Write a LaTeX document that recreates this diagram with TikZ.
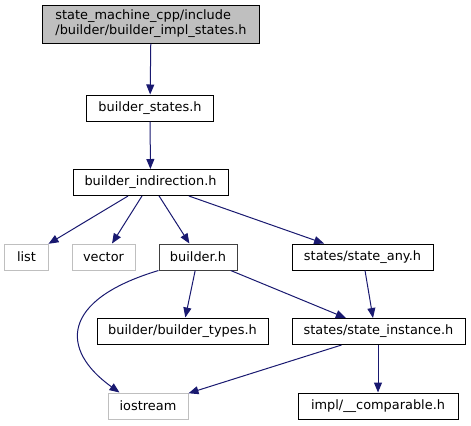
\documentclass[tikz,border=0pt]{standalone}
\usepackage{fontspec}
\setmainfont{DejaVu Sans}
\usetikzlibrary{arrows.meta}
\definecolor{edgeblue}{HTML}{191970}
\definecolor{boxgray}{HTML}{BFBFBF}
\definecolor{darkframe}{HTML}{404040}
\tikzset{
  file/.style={draw=black, line width=1bp, fill=white, minimum height=26bp,
    inner sep=0pt, font=\fontsize{12.9bp}{15bp}\selectfont},
  sysfile/.style={file, draw=boxgray},
  dep/.style={draw=edgeblue, line width=1bp, -{Triangle[length=10bp,width=8bp]}}
}
\begin{document}
\begin{tikzpicture}[x=1bp,y=-1bp]
            \useasboundingbox (0,0) rectangle (471,425);
            % files
            \node[file, fill=boxgray, minimum width=216bp, minimum height=38bp, align=left] (impl) at (151,24) {state\_machine\_cpp/include\\/builder/builder\_impl\_states.h};
            \node[file, minimum width=127bp] (states) at (150,108) {builder\_states.h};
            \node[file, minimum width=155bp] (indir) at (150.5,182.5) {builder\_indirection.h};
            \node[sysfile, minimum width=43bp] (list) at (26.5,257) {list};
            \node[sysfile, minimum width=63bp] (vector) at (103.5,257) {vector};
            \node[file, draw=darkframe, minimum width=78bp] (builder) at (198,257) {builder.h};
            \node[file, minimum width=141bp] (any) at (362.5,257) {states/state\_any.h};
            \node[file, minimum width=171bp] (types) at (182.5,331) {builder/builder\_types.h};
            \node[file, minimum width=173bp] (inst) at (378.5,331.5) {states/state\_instance.h};
            \node[sysfile, minimum width=80bp] (io) at (148,406) {iostream};
            \node[file, minimum width=160bp] (cmp) at (378,406) {impl/\_\_comparable.h};
            % includes
            \draw[dep] (impl) -- (states);
            \draw[dep] (states) -- (indir);
            \foreach \t in {list,vector,builder,any}
                \draw[dep] (indir) -- (\t);
            \draw[dep] (builder.south west) .. controls (60,300) and (60,350) .. ([xshift=12bp]io.north west);
            \draw[dep] (builder) -- (types);
            \draw[dep] (builder) -- (inst);
            \draw[dep] ([xshift=2.5bp]any.south) -- ([xshift=-5.5bp]inst.north);
            \draw[dep] ([xshift=-37bp]inst.south) -- (io);
            \draw[dep] (inst.south -| cmp.north) -- (cmp.north);
        \end{tikzpicture}
\end{document}
